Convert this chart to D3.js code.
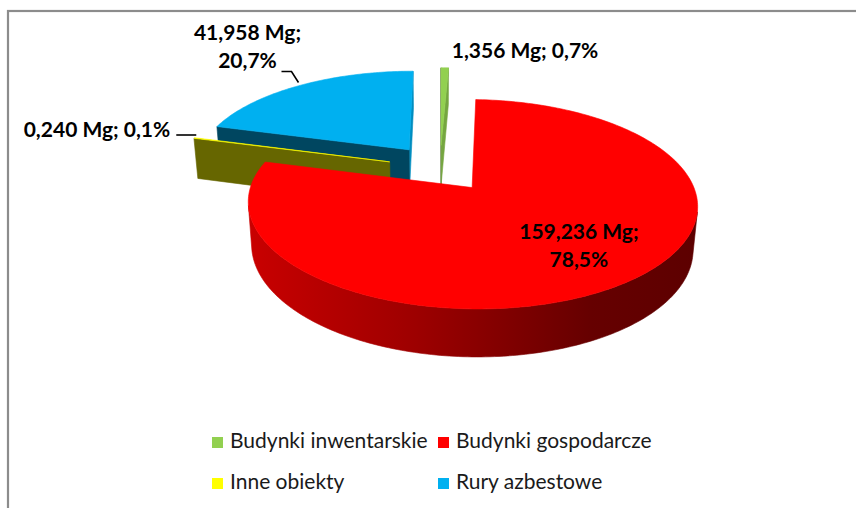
<!DOCTYPE html>
<html>
<head>
<meta charset="utf-8">
<style>
    body { margin: 0; padding: 0; overflow: hidden; background-color: #fff; }
    svg { display: block; }
    .lbl { font-family: Lato, "Open Sans", sans-serif; font-size: 21px; font-weight: bold; fill: #000; }
    .leg { font-family: Lato, "Open Sans", sans-serif; font-size: 21px; fill: #1a1a1a; }
</style>
</head>
<body>
<div id="chart"></div>
<script src="https://cdn.jsdelivr.net/npm/d3@7/dist/d3.min.js"></script>
<script>
    // data (Mg)
    var categories = ["Budynki inwentarskie", "Budynki gospodarcze", "Inne obiekty", "Rury azbestowe"];
    var values = [1.356, 159.236, 0.240, 41.958];
    var colors = ["#92D050", "#FF0000", "#FFFF00", "#00B0F0"];

    var width = 856, height = 508;

    var svg = d3.select("#chart").append("svg")
        .attr("width", width)
        .attr("height", height);

    // chart frame (only top/left edges fall inside the picture)
    svg.append("rect")
        .attr("x", 8).attr("y", 11)
        .attr("width", 900).attr("height", 600)
        .attr("fill", "#fff")
        .attr("stroke", "#8c8c8c")
        .attr("stroke-width", 2.2);

    var pl = d3.formatLocale({ decimal: ",", thousands: " ", grouping: [3], currency: ["", ""] });
    var fmtMg = pl.format(".3f");
    var fmtPct = pl.format(".1%");
    var total = d3.sum(values);

    var arcs = d3.pie().sort(null).value(function(d) { return d; })(values);

    // simple 3d camera for an exploded pie
    var view = { cx: 440, cy: 168, scale: 215, dist: 5.8, tilt: 26.5 * Math.PI / 180, depth: 0.22, explode: 0.245 };
    var cosT = Math.cos(view.tilt), sinT = Math.sin(view.tilt);
    var camera = [0, view.dist * sinT, -view.dist * cosT];

    function zc(p) { return view.dist + p[2] * cosT - p[1] * sinT; }
    function project(p) {
        var yc = p[1] * cosT + p[2] * sinT;
        var k = view.scale * view.dist / zc(p);
        return [view.cx + p[0] * k, view.cy - yc * k];
    }
    function facing(n, p) {
        return n[0] * (camera[0] - p[0]) + n[1] * (camera[1] - p[1]) + n[2] * (camera[2] - p[2]) > 0;
    }
    function shade(c, f) {
        var r = d3.rgb(c);
        return d3.rgb(r.r * f, r.g * f, r.b * f).formatHex();
    }

    var slices = arcs.map(function(d, i) {
        var mid = (d.startAngle + d.endAngle) / 2;
        return {
            i: i, a0: d.startAngle, a1: d.endAngle, mid: mid,
            ox: view.explode * Math.sin(mid), oz: view.explode * Math.cos(mid)
        };
    });
    function wp(s, a, r, y) {
        return [s.ox + r * Math.sin(a), y, s.oz + r * Math.cos(a)];
    }
    function ptsToPath(pts) {
        return "M" + pts.map(function(p) { var q = project(p); return q[0].toFixed(2) + "," + q[1].toFixed(2); }).join("L") + "Z";
    }

    // gradient for the curved outer walls
    var defs = svg.append("defs");
    var left = project([-1 - view.explode, 0, 0])[0], right = project([1 + view.explode, 0, 0])[0];
    colors.forEach(function(c, i) {
        var g = defs.append("linearGradient")
            .attr("id", "side" + i)
            .attr("gradientUnits", "userSpaceOnUse")
            .attr("x1", left).attr("x2", right).attr("y1", 0).attr("y2", 0);
        g.append("stop").attr("offset", 0.05).attr("stop-color", shade(c, 0.84));
        g.append("stop").attr("offset", 0.45).attr("stop-color", shade(c, 0.62));
        g.append("stop").attr("offset", 0.78).attr("stop-color", shade(c, 0.4));
        g.append("stop").attr("offset", 1).attr("stop-color", shade(c, 0.36));
    });

    var pieG = svg.append("g");
    var h = -view.depth;

    slices.slice().sort(function(a, b) {
        return zc([b.ox, 0, b.oz]) - zc([a.ox, 0, a.oz]);
    }).forEach(function(s) {
        var col = colors[s.i];
        var n = Math.max(2, Math.ceil((s.a1 - s.a0) / (Math.PI / 180)));
        var angs = d3.range(n + 1).map(function(k) { return s.a0 + (s.a1 - s.a0) * k / n; });
        var apexT = [s.ox, 0, s.oz], apexB = [s.ox, h, s.oz];
        var faces = [];

        // radial walls
        var nStart = [-Math.cos(s.a0), 0, Math.sin(s.a0)];
        var fStart = [apexT, wp(s, s.a0, 1, 0), wp(s, s.a0, 1, h), apexB];
        if (facing(nStart, fStart[1])) faces.push({ pts: fStart, fill: shade(col, nStart[0] < 0 ? 0.4 : 0.8) });
        var nEnd = [Math.cos(s.a1), 0, -Math.sin(s.a1)];
        var fEnd = [apexT, wp(s, s.a1, 1, 0), wp(s, s.a1, 1, h), apexB];
        if (facing(nEnd, fEnd[1])) faces.push({ pts: fEnd, fill: shade(col, nEnd[0] < 0 ? 0.4 : 0.8) });

        // curved wall, visible runs only
        var run = [];
        function flush() {
            if (run.length > 1) {
                var top = run.map(function(a) { return wp(s, a, 1, 0); });
                var bot = run.map(function(a) { return wp(s, a, 1, h); }).reverse();
                faces.push({ pts: top.concat(bot), fill: "url(#side" + s.i + ")" });
            }
            run = [];
        }
        for (var k = 0; k < n; k++) {
            var am = (angs[k] + angs[k + 1]) / 2;
            var vis = facing([Math.sin(am), 0, Math.cos(am)], wp(s, am, 1, 0));
            if (vis) {
                if (!run.length) run.push(angs[k]);
                run.push(angs[k + 1]);
            } else flush();
        }
        flush();

        faces.sort(function(a, b) {
            return d3.mean(b.pts, zc) - d3.mean(a.pts, zc);
        }).forEach(function(f) {
            pieG.append("path").attr("d", ptsToPath(f.pts))
                .attr("fill", f.fill).attr("stroke", f.fill).attr("stroke-width", 0.6)
                .attr("stroke-linejoin", "round");
        });

        // top face
        var topPts = [apexT].concat(angs.map(function(a) { return wp(s, a, 1, 0); }));
        pieG.append("path").attr("d", ptsToPath(topPts))
            .attr("fill", col).attr("stroke", col).attr("stroke-width", 0.6)
            .attr("stroke-linejoin", "round");
    });

    // data labels
    var labelLayout = [
        { r: 1, lines: 1, anchor: "start", dx: 7, dy: -10, leader: null },
        { r: 0.68, lines: 2, anchor: "middle", dx: 6, dy: -10, leader: null },
        { r: 1, lines: 1, anchor: "end", dx: -24, dy: -1, leader: [[2, -3], [-18, -3]] },
        { r: 1, lines: 2, anchor: "middle", dx: -52, dy: -46, leader: [[-1, -3], [-8, -14], [-18, -14]] }
    ];
    var lblG = svg.append("g");
    slices.forEach(function(s) {
        var L = labelLayout[s.i];
        var p = project(wp(s, s.mid, L.r, 0));
        var t1 = fmtMg(values[s.i]) + " Mg;";
        var t2 = fmtPct(values[s.i] / total);
        var lines = L.lines === 1 ? [t1 + " " + t2] : [t1, t2];
        var txt = lblG.append("text").attr("class", "lbl").attr("text-anchor", L.anchor);
        lines.forEach(function(line, j) {
            txt.append("tspan").attr("x", p[0] + L.dx).attr("y", p[1] + L.dy + j * 28).text(line);
        });
        if (L.leader) {
            lblG.append("path")
                .attr("d", d3.line()(L.leader.map(function(o) { return [p[0] + o[0], p[1] + o[1]]; })))
                .attr("fill", "none").attr("stroke", "#000").attr("stroke-width", 1.6);
        }
    });

    // legend
    var leg = svg.append("g").attr("transform", "translate(212,437)");
    var item = leg.selectAll("g").data(categories).enter().append("g")
        .attr("transform", function(d, i) { return "translate(" + (i % 2) * 226 + "," + Math.floor(i / 2) * 41 + ")"; });
    item.append("rect").attr("width", 11).attr("height", 11)
        .attr("fill", function(d, i) { return colors[i]; });
    item.append("text").attr("class", "leg").attr("x", 18).attr("y", 11).text(function(d) { return d; });
</script>
</body>
</html>
